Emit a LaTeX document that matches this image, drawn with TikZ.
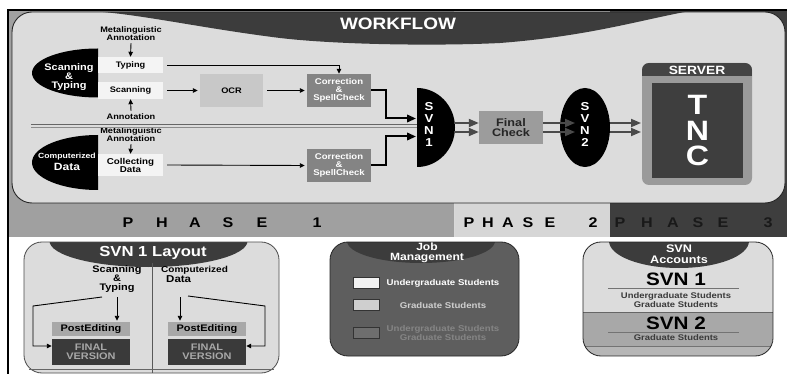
\documentclass[tikz,border=0pt]{standalone}
\usepackage{fontspec}
\setmainfont{Liberation Sans}[FakeStretch=1.15]
\usetikzlibrary{arrows.meta,shapes.geometric,calc}
\definecolor{panel}{HTML}{DCDCDC}
\definecolor{hdr}{HTML}{3C3C3C}
\definecolor{ph1}{HTML}{A0A0A0}
\definecolor{ph2}{HTML}{D6D6D6}
\definecolor{ph3}{HTML}{3E3E3E}
\definecolor{wbox}{HTML}{F4F4F4}
\definecolor{ocrc}{HTML}{C8C8C8}
\definecolor{corr}{HTML}{848484}
\definecolor{fchk}{HTML}{9C9C9C}
\definecolor{srv}{HTML}{9A9A9A}
\definecolor{srvh}{HTML}{444444}
\definecolor{srvin}{HTML}{3E3E3E}
\definecolor{pec}{HTML}{A8A8A8}
\definecolor{fvc}{HTML}{3A3A3A}
\definecolor{fvt}{HTML}{A8A8A8}
\definecolor{jmc}{HTML}{5E5E5E}
\definecolor{acc2}{HTML}{A8A8A8}
\definecolor{acc3}{HTML}{B6B6B6}
\definecolor{arrg}{HTML}{4A4A4A}
\definecolor{dtext}{HTML}{3A3A3A}
\begin{document}
\begin{tikzpicture}[x=1pt,y=-1pt,
  fs/.style 2 args={font=\fontsize{#1}{#2}\selectfont\bfseries},
  box/.style={rectangle, inner sep=0pt, align=center},
  lbl/.style={inner sep=0pt, align=center},
  tarr/.style={-{Triangle[length=5pt,width=4.5pt]}, line width=0.9pt, black},
  karr/.style={-{Triangle[length=9pt,width=7.5pt]}, line width=2pt, black},
  garr/.style={-{Triangle[length=10pt,width=8pt]}, line width=1.8pt, arrg},
  phs/.style={fs={14}{14}, inner sep=0pt, text=black},
  sq/.style={rectangle, draw=black!80, line width=0.7pt, minimum width=26pt, minimum height=11pt, inner sep=0pt}
]
\useasboundingbox (0,0) rectangle (787,374);
\fill[white] (0,0) rectangle (787,374);
% phase bands
\fill[ph1] (8,10) rectangle (454,237);
\fill[ph2] (454,10) rectangle (610,237);
\fill[ph3] (610,10) rectangle (787,237);
\draw[white!85!black, line width=1pt] (454,203) -- (454,237);
% outer border
\draw[black, line width=1.2pt] (8,374) -- (8,10) -- (787,10);
% main panel
\fill[panel, rounded corners=20pt] (12,12) rectangle (785,203);
\begin{scope}
  \clip[rounded corners=20pt] (12,12) rectangle (785,203);
  \fill[hdr] (80,8) -- (90,11) .. controls (140,14) and (200,28) .. (280,38)
    .. controls (340,45) and (440,46) .. (500,43)
    .. controls (590,36) and (640,20) .. (690,11) -- (700,8) -- cycle;
\end{scope}
\draw[black!85, line width=0.9pt, rounded corners=20pt] (12,12) rectangle (785,203);
\node[fs={16.5}{16.5}, text=white, lbl] (wf) at (398,24) {WORKFLOW};

% left half ellipses
\begin{scope}
  \clip (20,40) rectangle (98,200);
  \fill[black] (98,73) ellipse [x radius=66, y radius=24.5];
  \fill[black] (98,162.5) ellipse [x radius=66, y radius=27.5];
\end{scope}
\node[fs={9.5}{9}, text=white, lbl] (st) at (69,77) {Scanning\\\&\\Typing};
\node[fs={7.5}{7.5}, text=white, lbl] (cd1) at (67,157) {Computerized};
\node[fs={10.5}{10.5}, text=white, lbl] (cd2) at (67,166.5) {Data};

% white boxes
\node[box, fill=wbox, minimum width=65pt, minimum height=16pt, fs={8}{8}] (typing) at (130.5,65) {Typing};
\node[box, fill=wbox, minimum width=65pt, minimum height=17pt, fs={8}{8}] (scanning) at (130.5,90.5) {Scanning};
\node[box, fill=wbox, minimum width=65pt, minimum height=22pt, fs={8.5}{8}] (collect) at (130.5,165) {Collecting\\Data};

\node[lbl, fs={8}{8}] (meta1) at (131,34) {Metalinguistic\\Annotation};
\node[lbl, fs={8}{8}] (annot) at (131,117) {Annotation};
\node[lbl, fs={8}{8}] (meta2) at (131,135) {Metalinguistic\\Annotation};
\draw[tarr] ([yshift=-2pt]meta1.south) -- (typing.north);
\draw[tarr] ([yshift=3pt]annot.north) -- (scanning.south);
\draw[tarr] ([yshift=-2pt]meta2.south) -- (collect.north);

% process boxes
\node[box, fill=ocrc, minimum width=63pt, minimum height=33pt, fs={8}{8}] (ocr) at (231.5,90.5) {OCR};
\node[box, fill=corr, minimum width=64pt, minimum height=33pt, fs={8.3}{8}, text=white] (corr1) at (339,90.5) {Correction\\\&\\SpellCheck};
\node[box, fill=corr, minimum width=64pt, minimum height=33pt, fs={8.3}{8}, text=white] (corr2) at (339,165.5) {Correction\\\&\\SpellCheck};

\draw[tarr] ([xshift=4pt]typing.east) -| (corr1.north);
\draw[tarr] ([xshift=4pt]scanning.east) -- ([xshift=-2pt]ocr.west);
\draw[tarr] ([xshift=4pt]ocr.east) -- ([xshift=-2pt]corr1.west);
\draw[tarr] ([xshift=4pt]collect.east) -- ([xshift=-2pt]corr2.west);

% double separator
\draw[black!60, line width=0.8pt] (31,124.3) -- (417,124.3);
\draw[black!45, line width=0.8pt] (31,127.3) -- (417,127.3);

% SVN1
\begin{scope}
  \clip (417,80) rectangle (470,175);
  \fill[black] (417,127.5) ellipse [x radius=38, y radius=39.5];
\end{scope}
\node[fs={11.5}{12}, text=white, lbl] (svn1) at (429,124) {S\\V\\N\\1};
\coordinate (s1a) at (416,118.5);
\coordinate (s1b) at (416,136.5);
\draw[karr] (corr1.east) -- ++(15,0) |- (s1a);
\draw[karr] (corr2.east) -- ++(15,0) |- (s1b);

% Final check
\node[box, fill=fchk, minimum width=64pt, minimum height=33pt, fs={11}{10}, text=black!85] (fcheck) at (511,127.5) {Final\\Check};
\coordinate (s1o1) at (454,123);
\coordinate (s1o2) at (454,132);
\draw[garr] (s1o1) -- (fcheck.west |- s1o1);
\draw[garr] (s1o2) -- (fcheck.west |- s1o2);

% SVN2
\node[ellipse, fill=black, minimum width=50pt, minimum height=79pt, inner sep=0pt] (svn2) at (585,127.5) {};
\node[fs={11.5}{12}, text=white, lbl] (svn2t) at (585,124) {S\\V\\N\\2};
\coordinate (s2i1) at (575,123);
\coordinate (s2i2) at (575,132);
\draw[garr] (fcheck.east |- s1o1) -- (s2i1);
\draw[garr] (fcheck.east |- s1o2) -- (s2i2);

% server
\fill[srv, rounded corners=7pt] (642,63) rectangle (752,185);
\begin{scope}
  \clip[rounded corners=7pt] (642,63) rectangle (752,185);
  \fill[srvh] (642,63) rectangle (752,76);
\end{scope}
\node[fs={12}{12}, text=white, lbl] (srvl) at (697,70) {SERVER};
\node[box, fill=srvin, minimum width=91pt, minimum height=95pt] (tnc) at (697.5,130.5) {};
\node[fs={28}{25.5}, text=white, lbl] (tnct) at (697.5,131) {T\\N\\C};
\coordinate (s2o1) at (610,123);
\coordinate (s2o2) at (610,132);
\coordinate (sv1) at (641,123);
\coordinate (sv2) at (641,132);
\draw[garr] (s2o1) -- (sv1);
\draw[garr] (s2o2) -- (sv2);

% phase labels
\foreach \l/\x [count=\i] in {P/128,H/162,A/195,S/228,E/262,1/317}
  \node[phs] (pa\i) at (\x,222.5) {\l};
\foreach \l/\x [count=\i] in {P/469,H/488,A/508,S/528,E/550,2/593}
  \node[phs] (pb\i) at (\x,222.5) {\l};
\foreach \l/\x [count=\i] in {P/620,H/647,A/673,S/698,E/723,3/768}
  \node[phs, text=black!90] (pc\i) at (\x,222.5) {\l};

% ===== SVN 1 Layout panel
\fill[panel, rounded corners=18pt] (24,242) rectangle (279,373);
\begin{scope}
  \clip[rounded corners=18pt] (24,242) rectangle (279,373);
  \fill[hdr] (148.5,241) ellipse [x radius=99, y radius=26];
\end{scope}
\draw[black!70, line width=0.8pt, rounded corners=18pt] (24,242) rectangle (279,373);
\node[fs={14.5}{14.5}, text=white, lbl] (lay) at (153,252.5) {SVN 1 Layout};
\draw[black!65, line width=0.7pt] (152,263) -- (152,373);
\draw[black!60, line width=0.6pt] (29,369) -- (274,369);

\node[fs={9.5}{9}, lbl] (lst) at (117,279) {Scanning\\\&\\Typing};
\node[fs={8.7}{8.7}, inner sep=0pt, anchor=west] (lcd1) at (161,270) {Computerized};
\node[fs={10}{10}, inner sep=0pt, anchor=west] (lcd2) at (166,279.5) {Data};

\node[box, fill=pec, minimum width=78pt, minimum height=14pt, fs={9.5}{9.5}] (pe1) at (91,329) {PostEditing};
\node[box, fill=fvc, minimum width=78pt, minimum height=26pt, fs={9.5}{9}, text=fvt] (fv1) at (91,352) {FINAL\\VERSION};
\node[box, fill=pec, minimum width=78pt, minimum height=14pt, fs={9.5}{9.5}] (pe2) at (207,329) {PostEditing};
\node[box, fill=fvc, minimum width=78pt, minimum height=26pt, fs={9.5}{9}, text=fvt] (fv2) at (207,352) {FINAL\\VERSION};

\coordinate (l1a) at (117,297);
\coordinate (l1b) at (102,297);
\coordinate (l1c) at (33,306);
\draw[tarr] (l1a) -- ([yshift=1pt]l1a |- pe1.north);
\draw[tarr] (l1b) -- (l1c) |- ([yshift=6pt]fv1.west);
\coordinate (r1a) at (180,297);
\coordinate (r1b) at (188,296);
\coordinate (r1c) at (265,306);
\draw[tarr] (r1a) -- ([yshift=1pt]r1a |- pe2.north);
\draw[tarr] (r1b) -- (r1c) |- ([yshift=6pt]fv2.east);

% ===== Job Management panel
\fill[jmc, rounded corners=18pt] (330,242) rectangle (519,356);
\begin{scope}
  \clip[rounded corners=18pt] (330,242) rectangle (519,356);
  \fill[hdr] (421,241) ellipse [x radius=74, y radius=22];
\end{scope}
\draw[black!85, line width=0.8pt, rounded corners=18pt] (330,242) rectangle (519,356);
\node[fs={10.5}{9.5}, text=white, lbl] (jm) at (427,253) {Job\\Management};
\node[sq, fill=white!95!black] (sq1) at (366,282.5) {};
\node[sq, fill=black!19] (sq2) at (366,305) {};
\node[sq, fill=black!57] (sq3) at (366,333) {};
\node[fs={8.4}{8.4}, text=white, lbl] (jt1) at (443,283) {Undergraduate Students};
\node[fs={8.4}{8.4}, text=black!19, lbl] (jt2) at (443,305) {Graduate Students};
\node[fs={8.4}{9}, text=black!48, lbl] (jt3) at (443,332.5) {Undergraduate Students\\Graduate Students};

% ===== SVN Accounts panel
\begin{scope}
  \clip[rounded corners=18pt] (583,242) rectangle (773,356);
  \fill[panel] (583,242) rectangle (773,356);
  \fill[acc2] (583,312) rectangle (773,346);
  \fill[acc3] (583,346) rectangle (773,356);
  \draw[black!60, line width=0.7pt] (583,312) -- (773,312);
  \draw[black!55, line width=0.7pt] (583,346) -- (773,346);
  \fill[hdr] (679,241) ellipse [x radius=70, y radius=27];
\end{scope}
\draw[black!85, line width=0.8pt, rounded corners=18pt] (583,242) rectangle (773,356);
\node[fs={11}{11}, text=white, lbl] (acc) at (679,254) {SVN\\Accounts};
\node[fs={18}{18}, text=black, lbl] (a1) at (676,279) {SVN 1};
\draw[black!55, line width=0.7pt] (608,288) -- (739,288);
\node[fs={8.2}{8.5}, text=dtext, lbl] (a1t) at (676,300) {Undergraduate Students\\Graduate Students};
\node[fs={18}{18}, text=black, lbl] (a2) at (676,323) {SVN 2};
\draw[black!55, line width=0.7pt] (608,332) -- (739,332);
\node[fs={8.2}{8.5}, text=dtext, lbl] (a2t) at (676,337.5) {Graduate Students};
\end{tikzpicture}
\end{document}
